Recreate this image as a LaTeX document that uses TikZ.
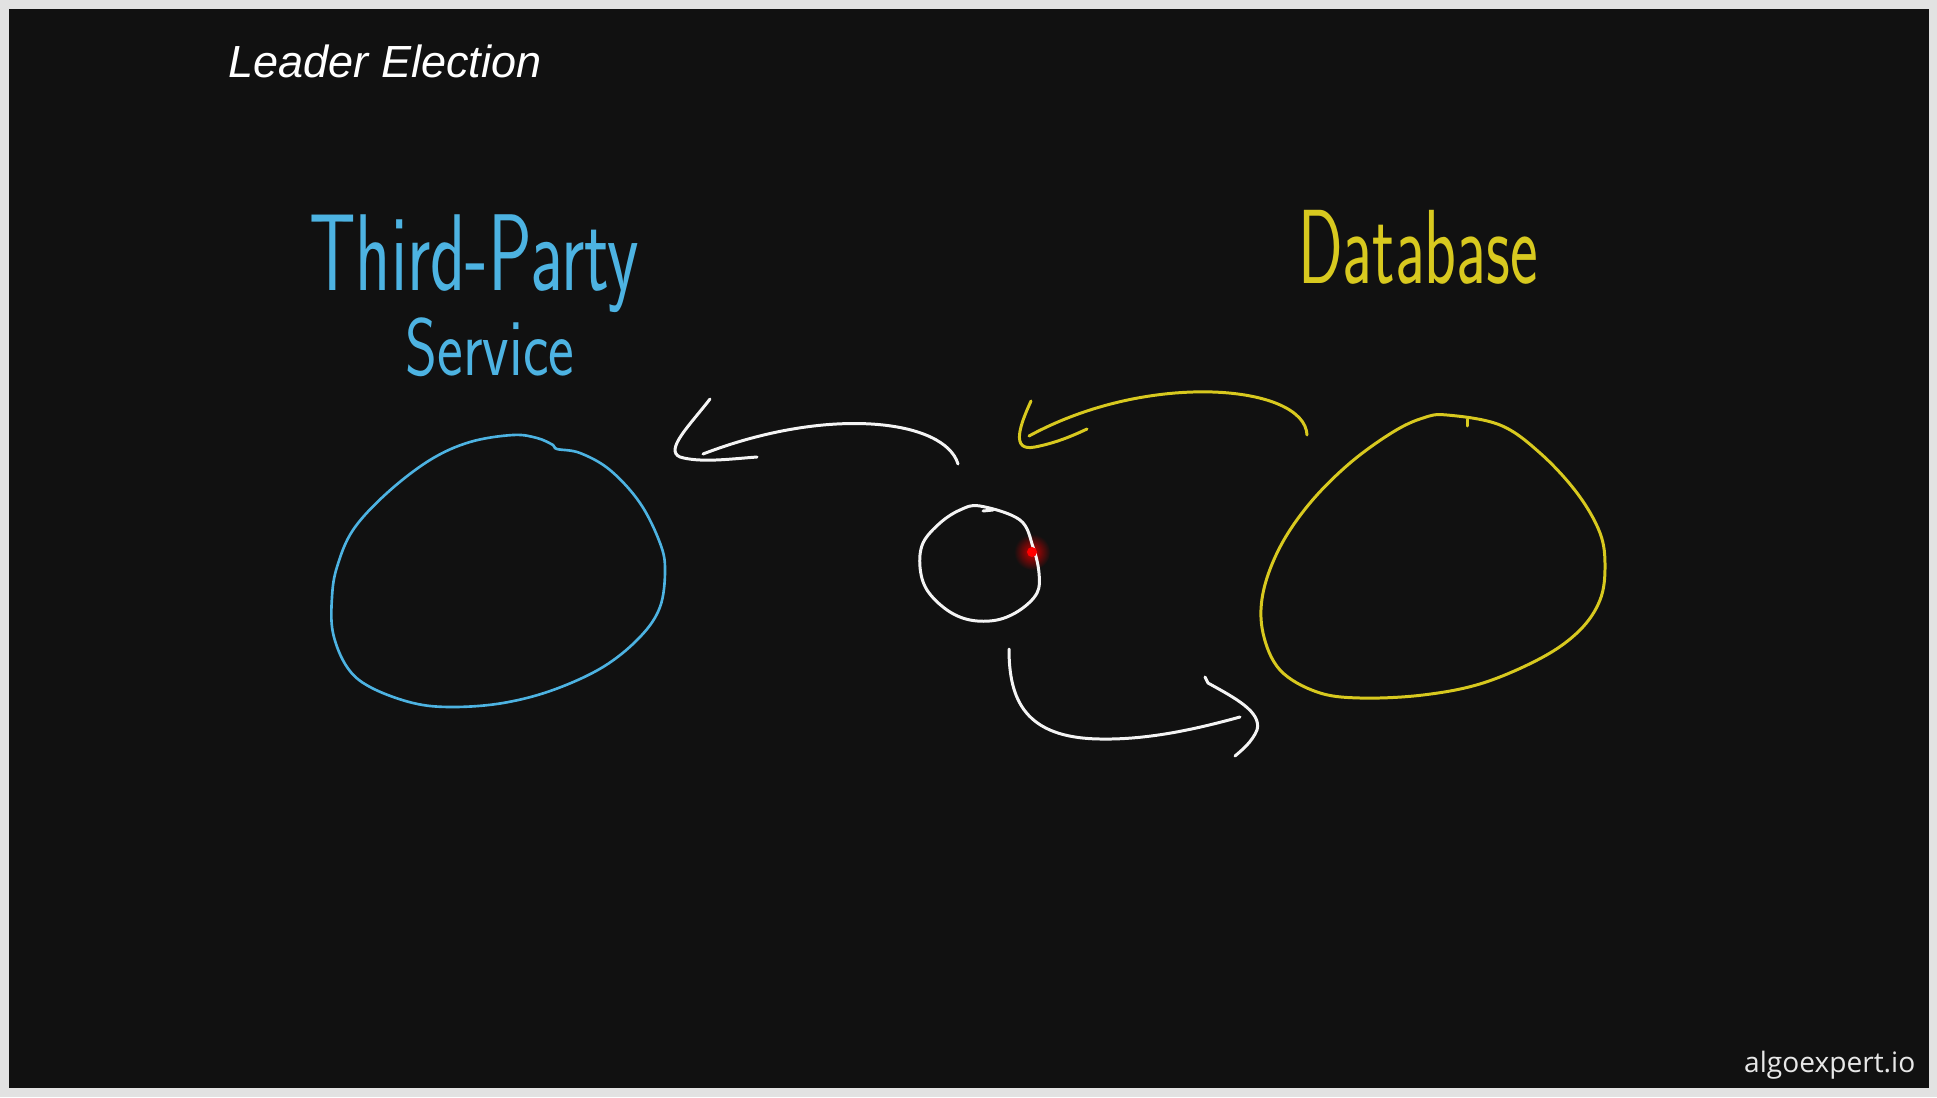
\documentclass[tikz,border=0pt]{standalone}
\usepackage{fontspec}
\usepackage{xcolor}
\usepackage{tikz}
\newfontfamily\titlefont{Liberation Sans}
\newfontfamily\brandfont{Open Sans}
\definecolor{boardbg}{HTML}{111111}
\definecolor{framegray}{HTML}{E2E2E2}
\definecolor{tpsblue}{HTML}{4DB3E2}
\definecolor{dbyellow}{HTML}{D8C91F}
\definecolor{chalk}{HTML}{F4F4F4}

\begin{document}
\begin{tikzpicture}[
    x=0.01cm, y=-0.01cm,
    pen/.style={line width=0.85pt, line cap=round, line join=round},
    penw/.style={pen, draw=chalk},
    penb/.style={pen, draw=tpsblue, line width=0.75pt},
    peny/.style={pen, draw=dbyellow},
    hand/.style={inner sep=0pt, anchor=base}
  ]
  \useasboundingbox (0,0) rectangle (1937,1097);
  \fill[framegray] (0,0) rectangle (1937,1097);
  \fill[boardbg] (9,9) rectangle (1929,1088);

  % titles
  \node[inner sep=0pt, anchor=base west, text=white,
        font=\titlefont\itshape\fontsize{12.8pt}{15pt}\selectfont] (title) at (228,78) {Leader Election};
  \node[inner sep=0pt, anchor=base east, text=chalk!90!gray,
        font=\brandfont\fontsize{8pt}{10pt}\selectfont] (brand) at (1916,1072) {algoexpert.io};

  % hand labels
  \node[hand, text=tpsblue, font=\sffamily\fontsize{20.7pt}{22pt}\selectfont] (tpsa) at (474,290) {\scalebox{1}[1.5]{Third-Party}};
  \node[hand, text=tpsblue, font=\sffamily\fontsize{17.4pt}{19pt}\selectfont] (tpsb) at (490,375) {\scalebox{1}[1.33]{Service}};
  \node[hand, text=dbyellow, font=\sffamily\fontsize{18.75pt}{20pt}\selectfont] (dbl) at (1418,283) {\scalebox{1}[1.6]{Database}};

  % blobs
  \coordinate (tps) at (498,571);
  \coordinate (db) at (1434,556);
  \coordinate (leader) at (980,563);
  \draw[penb] plot[smooth cycle, tension=0.6] coordinates {
    (513,435) (537,438) (553,445) (557,449) (580,453) (610,470) (640,503)
    (660,543) (665,570) (660,607) (640,637) (603,667) (553,690) (503,703)
    (453,707) (413,703) (370,687) (347,667) (333,633) (332,597) (337,567)
    (353,530) (387,493) (430,460) (470,442)};
  \draw[peny] plot[smooth cycle, tension=0.6] coordinates {
    (1447,415) (1500,425) (1540,453) (1577,493) (1600,533) (1605,567)
    (1600,600) (1580,630) (1543,657) (1483,683) (1423,695) (1360,698)
    (1317,692) (1280,670) (1263,633) (1263,593) (1280,547) (1310,503)
    (1350,463) (1393,432) (1423,418)};
  \draw[peny] (1467,419) -- (1467,426);

  % pointer glow under the leader
  \shade[inner color=red!80!black, outer color=boardbg] (1032,552) circle (18);
  \draw[penw] plot[smooth cycle, tension=0.6] coordinates {
    (980,506) (1020,520) (1033,547) (1039,573) (1037,593) (1020,610)
    (997,620) (970,620) (947,610) (927,590) (920,567) (923,543)
    (940,523) (960,510)};
  \draw[penw] (983,511) -- (993,510);
  \fill[red] (1032,552) circle (5);

  % arrows
  \coordinate (toTps) at (703,454);
  \coordinate (fromLeader) at (958,464);
  \coordinate (toLeader) at (1029,436);
  \coordinate (fromDb) at (1307,435);
  \coordinate (downStart) at (1009,649);
  \coordinate (toDb) at (1240,717);

  \draw[penw] (fromLeader) .. controls (945,420) and (830,405) .. (toTps);
  \draw[penw] (710,399) .. controls (690,425) and (664,450) .. (680,457)
              .. controls (700,463) and (730,459) .. (757,457);

  \draw[peny] (fromDb) .. controls (1305,385) and (1150,370) .. (toLeader);
  \draw[peny] (1031,401) .. controls (1020,425) and (1010,452) .. (1035,447)
              .. controls (1055,443) and (1070,437) .. (1087,429);

  \draw[penw] (downStart) .. controls (1009,700) and (1025,738) .. (1100,739)
              .. controls (1150,740) and (1200,728) .. (toDb);
  \draw[penw] (1205,677) -- (1208,683) .. controls (1235,698) and (1262,712) .. (1257,730)
              .. controls (1252,742) and (1242,750) .. (1235,756);
\end{tikzpicture}
\end{document}
